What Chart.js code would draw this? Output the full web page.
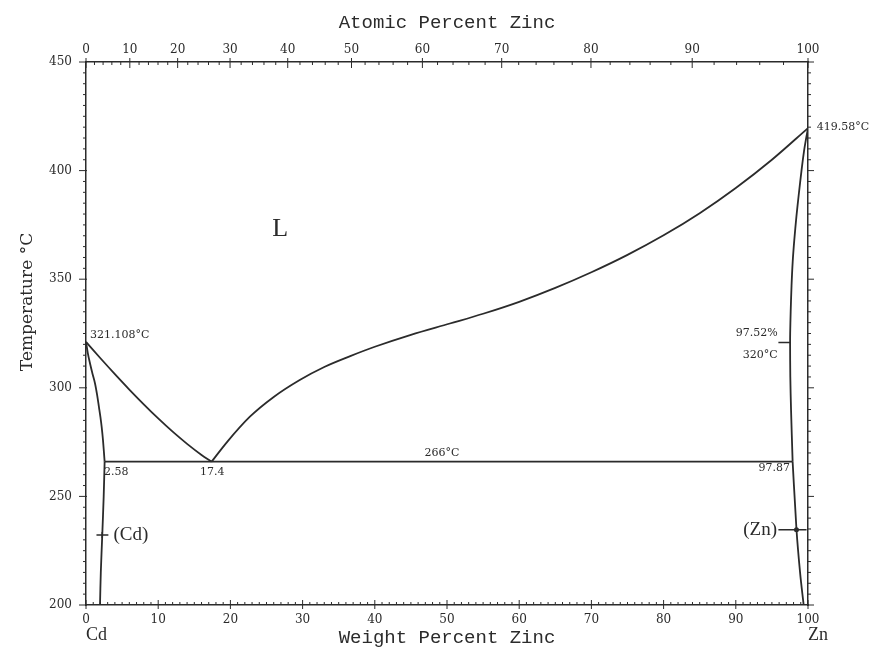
<!DOCTYPE html>
<html>
<head>
<meta charset="utf-8">
<script src="https://cdn.jsdelivr.net/npm/chart.js@4.4.0/dist/chart.umd.min.js"></script>
<style>
  html, body { margin: 0; padding: 0; background: #fff; }
  #wrap { width: 878px; height: 650px; }
</style>
</head>
<body>
<div id="wrap"><canvas id="cv" width="878" height="650"></canvas></div>
<script>
// Cd-Zn phase diagram, weight percent Zn vs temperature (°C)

// --- data -------------------------------------------------------------
const liquidusCd = [[0, 321.108], [2, 313.6], [4, 306.3], [6, 299.2], [8, 292.4], [10, 285.9],
                    [12, 279.8], [14, 274.2], [16, 269.1], [17.4, 266]];
const liquidusZn = [[17.4, 266], [19.5, 274.9], [22.7, 286.7], [26, 295.8], [29.6, 303.6], [33, 309.6],
                    [36.6, 314.6], [40, 318.9], [45, 324.4], [50.4, 329.6], [55, 334.1], [60, 339.6],
                    [65, 346], [70, 353.2], [75, 361.2], [80, 370.2], [85, 380.4], [90, 392],
                    [95, 405], [100, 419.58]];
const solidusCd = [[0, 321.108], [0.25, 316], [0.55, 311.3], [0.9, 306.5], [1.25, 302], [1.55, 296.5],
                   [1.8, 291], [2.0, 286.5], [2.17, 282], [2.35, 276], [2.48, 270.5], [2.58, 266]];
const solvusCd = [[2.58, 266], [2.45, 250], [2.25, 232], [2.05, 215], [1.94, 200]];
const solidusZn = [[100, 419.58], [99.75, 415], [99.45, 409], [99.1, 400], [98.72, 389], [98.4, 379],
                   [98.1, 368], [97.88, 358], [97.72, 347], [97.6, 335], [97.53, 325], [97.52, 320],
                   [97.55, 305], [97.65, 290], [97.87, 266]];
const solvusZn = [[97.87, 266], [98.4, 235], [98.9, 215], [99.4, 200]];
const eutectic = [[2.58, 266], [97.87, 266]];

const atomicTicks = [0, 10, 20, 30, 40, 50, 60, 70, 80, 90, 100];
const weightRange = [0, 100];
const tempRange = [200, 450];

// text labels placed at (wt% Zn, °C)
const notes = [
  { text: '321.108°C', x: 0.55, y: 324.3, align: 'left', size: 11 },
  { text: 'L', x: 26.9, y: 373, align: 'center', size: 26, serif: true },
  { text: '266°C', x: 49.3, y: 269.8, align: 'center', size: 11 },
  { text: '2.58', x: 2.5, y: 261.1, align: 'left', size: 11 },
  { text: '17.4', x: 17.5, y: 261.1, align: 'center', size: 11 },
  { text: '97.87', x: 97.5, y: 262.9, align: 'right', size: 11 },
  { text: '97.52%', x: 95.8, y: 325.1, align: 'right', size: 11 },
  { text: '320°C', x: 95.8, y: 315, align: 'right', size: 11 },
  { text: '419.58°C', x: 101.2, y: 420.2, align: 'left', size: 11 },
  { text: '(Cd)', x: 3.8, y: 232.2, align: 'left', size: 19, serif: true },
  { text: '(Zn)', x: 95.7, y: 234.5, align: 'right', size: 19, serif: true },
];

// --- helpers ----------------------------------------------------------
const INK = '#2b2b2b';
const ZN = 65.38, CD = 112.41;
const atToWt = a => 100 * a * ZN / (a * ZN + (100 - a) * CD);
const toXY = arr => arr.map(([x, y]) => ({ x, y }));
const tickFont = { family: "'DejaVu Serif', serif", size: 12 };
const titleFont = { family: "'Liberation Mono', monospace", size: 19 };

function line(data, smooth) {
  const ds = {
    data: toXY(data),
    showLine: true, pointRadius: 0,
    borderColor: INK, borderWidth: 1.8,
    fill: false,
  };
  if (smooth === 'monotone') ds.cubicInterpolationMode = 'monotone';
  else ds.tension = smooth;
  return ds;
}

// minor/major tick marks on all four sides
const tickMarks = {
  id: 'tickMarks',
  afterDraw(chart) {
    const { ctx, chartArea: a, scales } = chart;
    ctx.save();
    ctx.strokeStyle = INK;
    ctx.lineWidth = 1;
    ctx.beginPath();
    for (let v = 0; v <= 100; v += 1) {
      const px = scales.x.getPixelForValue(v);
      const major = v % 10 === 0;
      ctx.moveTo(px, a.bottom + (major ? 4 : 0));
      ctx.lineTo(px, a.bottom - (major ? 5 : 3));
    }
    for (let v = 0; v <= 100; v += 2) {
      const px = scales.xTop.getPixelForValue(atToWt(v));
      const major = v % 10 === 0;
      ctx.moveTo(px, a.top - (major ? 4 : 0));
      ctx.lineTo(px, a.top + (major ? 6 : 3));
    }
    for (let t = 200; t <= 450; t += 5) {
      const py = scales.y.getPixelForValue(t);
      const major = t % 50 === 0;
      ctx.moveTo(a.left - (major ? 7 : 3), py);
      ctx.lineTo(a.left + (major ? 1 : 0), py);
      ctx.moveTo(a.right, py);
      ctx.lineTo(a.right + (major ? 6 : 3), py);
    }
    ctx.stroke();
    ctx.restore();
  },
};

// labels, arrows and the y title
const labels = {
  id: 'labels',
  afterDatasetsDraw(chart) {
    const { ctx, scales } = chart;
    const X = v => scales.x.getPixelForValue(v);
    const Y = v => scales.y.getPixelForValue(v);
    ctx.save();
    ctx.fillStyle = INK;
    ctx.strokeStyle = INK;
    ctx.textBaseline = 'middle';
    notes.forEach(n => {
      ctx.font = n.size + 'px ' + (n.serif ? "'Liberation Serif', serif" : "'DejaVu Serif', serif");
      ctx.textAlign = n.align;
      ctx.fillText(n.text, X(n.x), Y(n.y));
    });

    ctx.lineWidth = 1.5;
    ctx.beginPath();
    // (Cd) marker
    ctx.moveTo(X(1.45), Y(232.2)); ctx.lineTo(X(3.1), Y(232.2));
    ctx.moveTo(X(2.25), Y(232.2) - 3); ctx.lineTo(X(2.25), Y(232.2) + 3);
    // (Zn) leader
    ctx.moveTo(X(95.9), Y(234.6)); ctx.lineTo(X(99.8), Y(234.6));
    // 97.52% arrow
    ctx.moveTo(X(95.9), Y(320.8)); ctx.lineTo(X(97.5), Y(320.8));
    ctx.stroke();
    ctx.beginPath();
    ctx.arc(X(98.4), Y(234.6), 2.5, 0, Math.PI * 2);
    ctx.fill();

    // element names under the axis
    ctx.font = "18px 'Liberation Serif', serif";
    ctx.textAlign = 'left';
    ctx.fillText('Cd', X(0), 635);
    ctx.fillText('Zn', X(100), 635);

    // y axis title
    ctx.translate(28, 302);
    ctx.rotate(-Math.PI / 2);
    ctx.textAlign = 'center';
    ctx.font = "17px 'DejaVu Serif', serif";
    ctx.fillText('Temperature °C', 0, 0);
    ctx.restore();
  },
};

new Chart(document.getElementById('cv'), {
  type: 'scatter',
  data: {
    datasets: [
      line(liquidusCd, 'monotone'),
      line(liquidusZn, 'monotone'),
      line(solidusCd, 'monotone'),
      line(solvusCd, 0.3),
      line(solidusZn, 0.3),
      line(solvusZn, 'monotone'),
      line(eutectic, 0),
    ],
  },
  options: {
    responsive: false,
    animation: false,
    layout: { padding: 0 },
    plugins: { legend: { display: false }, tooltip: { enabled: false } },
    scales: {
      x: {
        type: 'linear', position: 'bottom', min: weightRange[0], max: weightRange[1],
        afterFit: s => { s.height = 45; },
        ticks: { stepSize: 10, padding: 8, color: INK, font: tickFont, maxRotation: 0 },
        grid: { drawOnChartArea: false, drawTicks: false },
        border: { color: INK, width: 1.5 },
        title: { display: true, text: 'Weight Percent Zinc', color: INK, font: titleFont, padding: { top: 0, bottom: 1 } },
      },
      xTop: {
        type: 'linear', position: 'top', min: weightRange[0], max: weightRange[1],
        afterBuildTicks: s => { s.ticks = atomicTicks.map(a => ({ value: atToWt(a) })); },
        afterFit: s => { s.height = 62; },
        ticks: { autoSkip: false, maxRotation: 0, padding: 5, color: INK, font: tickFont,
                 callback: (v, i) => atomicTicks[i] },
        grid: { drawOnChartArea: false, drawTicks: false },
        border: { color: INK, width: 1.5 },
        title: { display: true, text: 'Atomic Percent Zinc', color: INK, font: titleFont, padding: { top: 12, bottom: 0 } },
      },
      y: {
        type: 'linear', position: 'left', min: tempRange[0], max: tempRange[1],
        afterFit: s => { s.width = 86; },
        ticks: { stepSize: 50, padding: 14, color: INK, font: tickFont },
        grid: { drawOnChartArea: false, drawTicks: false },
        border: { color: INK, width: 1.5 },
      },
      yRight: {
        type: 'linear', position: 'right', min: tempRange[0], max: tempRange[1],
        afterFit: s => { s.width = 70; },
        ticks: { display: false },
        grid: { drawOnChartArea: false, drawTicks: false },
        border: { color: INK, width: 1.5 },
      },
    },
  },
  plugins: [tickMarks, labels],
});
</script>
</body>
</html>
